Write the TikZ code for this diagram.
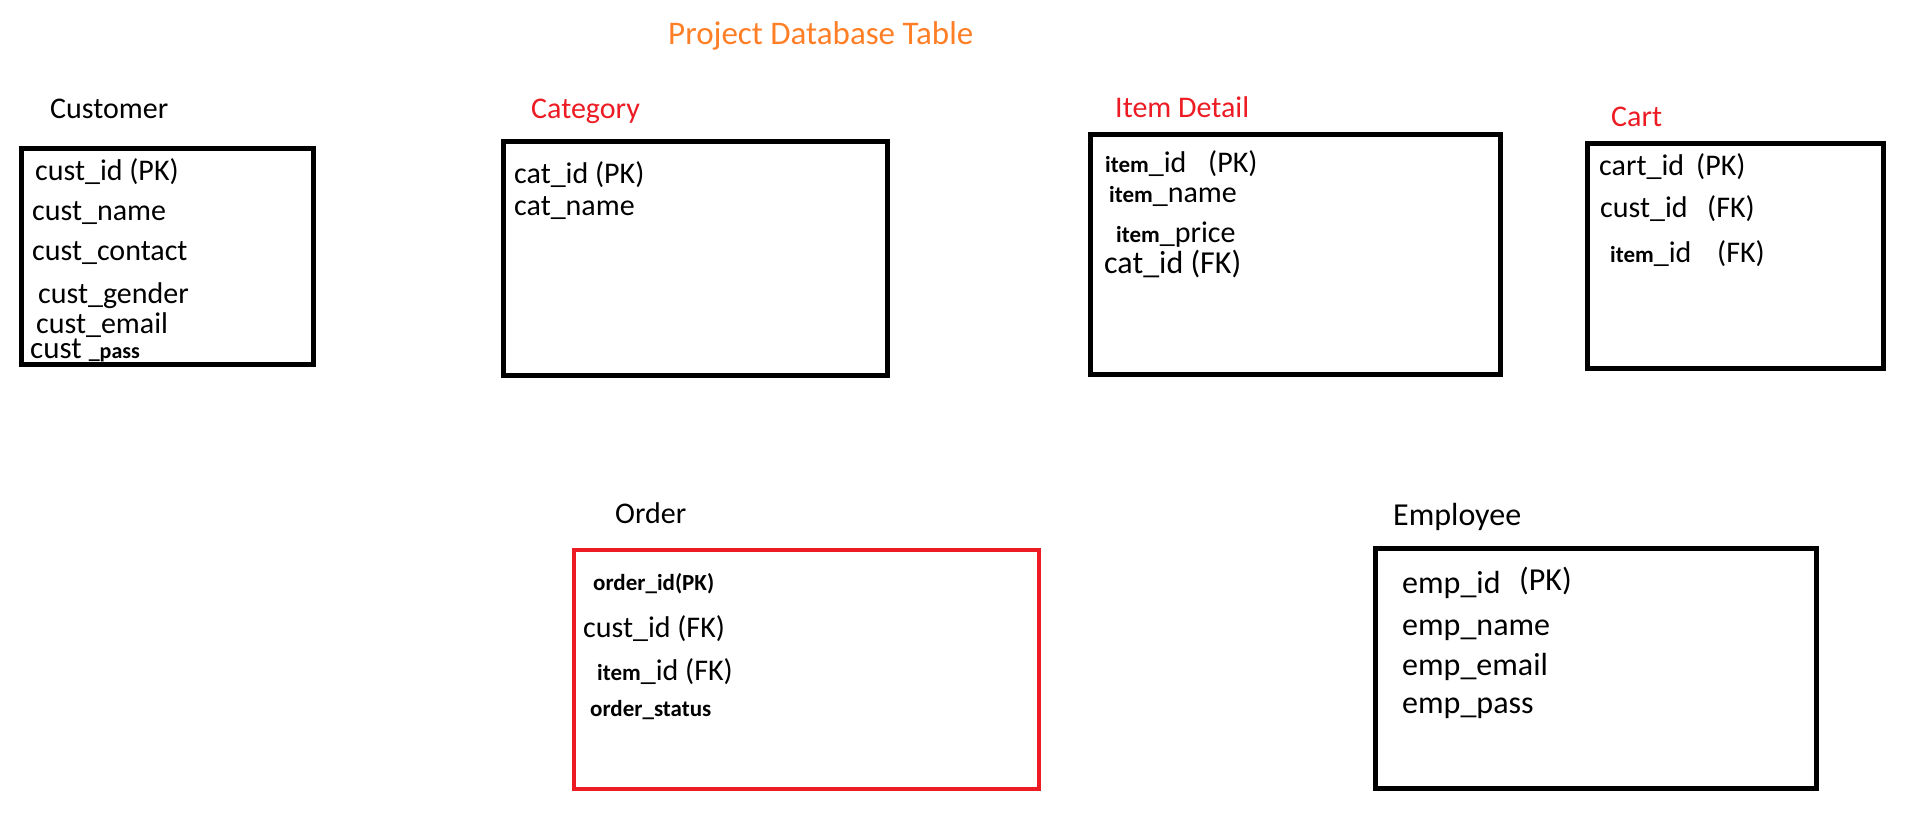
\documentclass[tikz,border=0pt]{standalone}
\usepackage{fontspec}
\setmainfont{Carlito}
\definecolor{paintred}{HTML}{ED1C24}
\definecolor{paintorange}{HTML}{FF7F27}
\newcommand{\fA}{\fontsize{30}{36}\selectfont}
\newcommand{\fB}{\fontsize{32}{38}\selectfont}
\newcommand{\fS}{\fontsize{23}{28}\selectfont\bfseries}
\begin{document}
\begin{tikzpicture}[x=1pt,y=-1pt,
  tbl/.style={draw, line width=5pt, inner sep=0pt},
  lbl/.style={anchor=base west, inner sep=0pt, font=\fA},
  fld/.style={anchor=base west, inner sep=0pt, font=\fA}]
\useasboundingbox[fill=white] (0,0) rectangle (1908,822);
% title
\node[lbl, text=paintorange, font=\fontsize{33}{39}\selectfont] (title) at (668,44) {Project Database Table};
% table labels
\node[lbl] (lcust) at (50,118) {Customer};
\node[lbl, text=paintred] (lcat) at (531,118) {Category};
\node[lbl, text=paintred] (litem) at (1115,117) {Item Detail};
\node[lbl, text=paintred] (lcart) at (1611,126) {Cart};
\node[lbl] (lorder) at (615,523) {Order};
\node[lbl, font=\fB] (lemp) at (1393,525) {Employee};
% boxes
\node[tbl, minimum width=292pt, minimum height=216pt] (cust) at (167,256) {};
\node[tbl, minimum width=384pt, minimum height=234pt] (cat) at (695,258) {};
\node[tbl, minimum width=410pt, minimum height=240pt] (item) at (1295,254) {};
\node[tbl, minimum width=296pt, minimum height=225pt] (cart) at (1735,256) {};
\node[tbl, draw=paintred, line width=4pt, minimum width=465pt, minimum height=239pt] (order) at (806.5,669.5) {};
\node[tbl, minimum width=441pt, minimum height=240pt] (emp) at (1595.5,668) {};
% customer fields
\node[fld] (c1) at (35,180) {cust\_id (PK)};
\node[fld] (c2) at (32,220) {cust\_name};
\node[fld] (c3) at (32,260) {cust\_contact};
\node[fld] (c4) at (38,303) {cust\_gender};
\node[fld] (c5) at (36,333) {cust\_email};
\node[fld, font=\fontsize{31}{36}\selectfont] (c6) at (30,358) {cust {\fontsize{22}{26}\selectfont\bfseries \_pass}};
% category fields
\node[fld] (k1) at (514,183) {cat\_id (PK)};
\node[fld] (k2) at (514,215) {cat\_name};
% item fields
\node[fld] (i1) at (1105,172) {{\fS item}\_id};
\node[fld] (i1b) at (1208,172) {(PK)};
\node[fld] (i2) at (1109,202) {{\fS item}\_name};
\node[fld] (i3) at (1116,242) {{\fS item}\_price};
\node[fld, font=\fB] (i4) at (1104,273) {cat\_id (FK)};
% cart fields
\node[fld] (r1) at (1599,175) {cart\_id};
\node[fld] (r1b) at (1696,175) {(PK)};
\node[fld] (r2) at (1600,217) {cust\_id};
\node[fld] (r2b) at (1707,217) {(FK)};
\node[fld] (r3) at (1610,262) {{\fS item}\_id};
\node[fld] (r3b) at (1717,262) {(FK)};
% order fields
\node[fld, font=\fS] (o1) at (593,590) {order\_id(PK)};
\node[fld] (o2) at (583,637) {cust\_id (FK)};
\node[fld] (o3) at (597,680) {{\fS item}\_id (FK)};
\node[fld, font=\fS] (o4) at (590,716) {order\_status};
% employee fields
\node[fld, font=\fB] (e1) at (1402,593) {emp\_id};
\node[fld, font=\fB] (e1b) at (1519,590) {(PK)};
\node[fld, font=\fB] (e2) at (1402,635) {emp\_name};
\node[fld, font=\fB] (e3) at (1402,675) {emp\_email};
\node[fld, font=\fB] (e4) at (1402,713) {emp\_pass};
\end{tikzpicture}
\end{document}
